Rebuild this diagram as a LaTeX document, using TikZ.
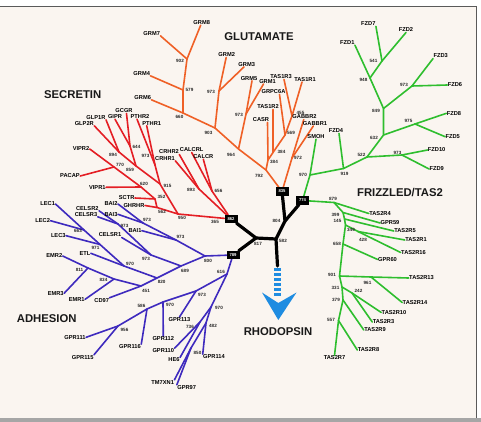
\documentclass[tikz,border=0pt]{standalone}
\usepackage{fontspec}
\setmainfont{Liberation Sans}
\usetikzlibrary{calc}
\definecolor{bgc}{RGB}{250,245,240}
\definecolor{glc}{RGB}{239,96,38}
\definecolor{sec}{RGB}{228,30,36}
\definecolor{frc}{RGB}{46,190,46}
\definecolor{adc}{RGB}{62,42,190}
\definecolor{arc}{RGB}{30,140,225}
\definecolor{frm}{RGB}{90,90,90}
\pgfdeclarelayer{back}
\pgfdeclarelayer{lines}
\pgfsetlayers{back,lines,main}
\tikzset{
 gl/.style={font=\fontsize{5.7}{6}\selectfont\bfseries, inner sep=0.5pt, outer sep=0pt, text=black},
 bs/.style={font=\fontsize{4.6}{5}\selectfont\bfseries, inner sep=0pt, text=black!85},
 ttl/.style={font=\fontsize{11.3}{12}\selectfont\bfseries, inner sep=0pt, text=black!90},
 bx/.style={fill=black, text=white, font=\fontsize{4.2}{4.5}\selectfont\bfseries, minimum width=13pt, minimum height=8.5pt, inner sep=0pt, outer sep=0pt},
 lg/.style={draw=glc, line width=1.6pt, line cap=round, line join=round},
 ls/.style={draw=sec, line width=1.6pt, line cap=round, line join=round},
 lf/.style={draw=frc, line width=1.6pt, line cap=round, line join=round},
 la/.style={draw=adc, line width=1.6pt, line cap=round, line join=round},
 lk/.style={draw=black, line width=3.2pt, line cap=round, line join=round},
}
\begin{document}
\begin{tikzpicture}[x=1pt,y=-1pt]
\useasboundingbox (0,0) rectangle (481,422);
\begin{pgfonlayer}{back}
\fill[white] (0,0) rectangle (481,422);
\fill[bgc] (0,6.5) rectangle (476,418);
\draw[frm, line width=1pt] (0,6.5) -- (476,6.5) -- (476,418);
\fill[gray!70] (0,418) rectangle (481,422);
\end{pgfonlayer}

% titles
\node[ttl] (tGLU) at (259,36.7) {GLUTAMATE};
\node[ttl] (tSEC) at (72.7,95) {SECRETIN};
\node[ttl] (tFRZ) at (400,192.3) {FRIZZLED/TAS2};
\node[ttl] (tADH) at (46.7,318.3) {ADHESION};
\node[ttl] (tRHO) at (278,332) {RHODOPSIN};

% boxes
\node[bx] (B835) at (282,191.5) {835};
\node[bx] (B862) at (231,219) {862};
\node[bx] (B774) at (302.5,200.5) {774};
\node[bx] (B789) at (233,255) {789};
\coordinate (k804) at (285,221);
\coordinate (k582) at (276,239);
\coordinate (k817) at (256,238);
\coordinate (karr) at (277.5,266);
\node[bs] (n804) at (276.5,221) {804};
\node[bs] (n582) at (283,241) {582};
\node[bs] (n817) at (258,243.5) {817};

% ---------- glutamate ----------
\node[gl] (GRM8) at (201.7,22.7) {GRM8};
\node[gl] (GRM7) at (151.7,33.3) {GRM7};
\node[gl] (GRM4) at (141.7,73.3) {GRM4};
\node[gl] (GRM6) at (142.7,97.3) {GRM6};
\node[gl] (GRM2) at (226.7,55) {GRM2};
\node[gl] (GRM3) at (246.7,64.3) {GRM3};
\node[gl] (GRM5) at (249,78.3) {GRM5};
\node[gl] (GRM1) at (267.5,81.5) {GRM1};
\node[gl] (TAS1R3) at (281,77) {TAS1R3};
\node[gl] (TAS1R1) at (305,79.5) {TAS1R1};
\node[gl] (GRPC6A) at (273.5,92) {GRPC6A};
\node[gl] (TAS1R2) at (268,107) {TAS1R2};
\node[gl] (CASR) at (261,120) {CASR};
\node[gl] (GABBR2) at (304.5,117) {GABBR2};
\node[gl] (GABBR1) at (315,123.5) {GABBR1};
\coordinate (g902) at (187,59);
\coordinate (g579) at (183,90);
\coordinate (g660) at (183,113);
\coordinate (g973a) at (219,91);
\coordinate (g903) at (215,128);
\coordinate (g973b) at (246,114);
\coordinate (g964) at (238.5,149);
\coordinate (g792) at (266,170);
\coordinate (g384b) at (268,160);
\coordinate (g384a) at (273,152.5);
\coordinate (g569) at (285,135);
\coordinate (g455) at (292,116);
\coordinate (g972) at (292,158);
\node[bs] (n902) at (180,60.5) {902};
\node[bs] (n579) at (189.5,90) {579};
\node[bs] (n660) at (179.5,116.5) {660};
\node[bs] (n973a) at (211,92) {973};
\node[bs] (n903) at (208.5,133) {903};
\node[bs] (n973b) at (239,115) {973};
\node[bs] (n964) at (231,154.5) {964};
\node[bs] (n792) at (259,175.5) {792};
\node[bs] (n384b) at (274,161.5) {384};
\node[bs] (n384a) at (281.5,151.5) {384};
\node[bs] (n569) at (291,133) {569};
\node[bs] (n455) at (300.5,112.5) {455};
\node[bs] (n972) at (298,157.5) {972};

% ---------- secretin ----------
\node[gl] (GLP2R) at (84.3,123.3) {GLP2R};
\node[gl] (GLP1R) at (96,117.3) {GLP1R};
\node[gl] (GIPR) at (115,116.7) {GIPR};
\node[gl] (GCGR) at (124,111) {GCGR};
\node[gl] (PTHR2) at (140,116.7) {PTHR2};
\node[gl] (PTHR1) at (151.7,123.3) {PTHR1};
\node[gl] (VIPR2) at (81,149) {VIPR2};
\node[gl] (PACAP) at (70,176) {PACAP};
\node[gl] (VIPR1) at (97.3,187.3) {VIPR1};
\node[gl] (SCTR) at (126.7,198) {SCTR};
\node[gl] (GHRHR) at (134,205.5) {GHRHR};
\node[gl] (CRHR2) at (169,152) {CRHR2};
\node[gl] (CRHR1) at (165,158.3) {CRHR1};
\node[gl] (CALCRL) at (191.7,150) {CALCRL};
\node[gl] (CALCR) at (203.3,156.7) {CALCR};
\coordinate (s894) at (119,152);
\coordinate (s644) at (130,146);
\coordinate (s859) at (136,166);
\coordinate (s973) at (155,165);
\coordinate (s915) at (160,184);
\coordinate (s770) at (114,167);
\coordinate (s620) at (141,187);
\coordinate (s352) at (155,199);
\coordinate (s562) at (157,207.5);
\coordinate (s950) at (178,214);
\coordinate (s893) at (199,189);
\coordinate (s656) at (212,191);
\node[bs] (n894) at (113,154.5) {894};
\node[bs] (n644) at (136.5,147) {644};
\node[bs] (n859) at (130,169.5) {859};
\node[bs] (n973s) at (145.5,156) {973};
\node[bs] (n915) at (167.5,185.5) {915};
\node[bs] (n770) at (120,164.5) {770};
\node[bs] (n620) at (144,183.5) {620};
\node[bs] (n352) at (161.5,197) {352};
\node[bs] (n562) at (162,211.5) {562};
\node[bs] (n950) at (182,217.5) {950};
\node[bs] (n893) at (191,190) {893};
\node[bs] (n656) at (218.5,191) {656};
\node[bs] (n365) at (215,222) {365};

% ---------- adhesion ----------
\node[gl] (LEC1) at (47.7,204) {LEC1};
\node[gl] (LEC2) at (42.7,220.7) {LEC2};
\node[gl] (LEC3) at (58.3,235.7) {LEC3};
\node[gl] (CELSR2) at (87.3,208.3) {CELSR2};
\node[gl] (CELSR3) at (86,214.3) {CELSR3};
\node[gl] (BAI2) at (111,204) {BAI2};
\node[gl] (BAI3) at (111,214.3) {BAI3};
\node[gl] (BAI1) at (135,230.7) {BAI1};
\node[gl] (CELSR1) at (110,235) {CELSR1};
\node[gl] (EMR2) at (54.3,256) {EMR2};
\node[gl] (ETL) at (85,253.3) {ETL};
\node[gl] (EMR3) at (55.7,293.3) {EMR3};
\node[gl] (EMR1) at (76.7,299.3) {EMR1};
\node[gl] (CD97) at (101.7,300.3) {CD97};
\node[gl] (GPR113) at (179.5,319.5) {GPR113};
\node[gl] (GPR111) at (75,337.3) {GPR111};
\node[gl] (GPR116) at (130,346.7) {GPR116};
\node[gl] (GPR112) at (163.3,339) {GPR112};
\node[gl] (GPR110) at (163.3,350.7) {GPR110};
\node[gl] (HE6) at (174,360) {HE6};
\node[gl] (GPR114) at (214,356.7) {GPR114};
\node[gl] (GPR115) at (82.7,357.3) {GPR115};
\node[gl] (TM7XN1) at (162.7,382.3) {TM7XN1};
\node[gl] (GPR97) at (186.7,387.3) {GPR97};
\coordinate (a663) at (84,230);
\coordinate (a971) at (100,244.5);
\coordinate (a970) at (124,266);
\coordinate (a973a) at (118,224);
\coordinate (a973c) at (151,255);
\coordinate (a973b) at (143,223);
\coordinate (a973d) at (176,240);
\coordinate (a800) at (205,256);
\coordinate (a689) at (181,266);
\coordinate (a820) at (157,278);
\coordinate (a811) at (88,268);
\coordinate (a834) at (114,279);
\coordinate (a451) at (141,286);
\coordinate (a616) at (227,274);
\coordinate (a973e) at (196,291);
\coordinate (a970c) at (163,302);
\coordinate (a586) at (147,309);
\coordinate (a956) at (118,326);
\coordinate (a970b) at (211,307);
\coordinate (a736) at (200,322);
\coordinate (a482) at (206,323);
\coordinate (a850) at (191,348);
\node[bs] (n663) at (78,231) {663};
\node[bs] (n971) at (95.5,247.5) {971};
\node[bs] (n970a) at (130,264) {970};
\node[bs] (n973aa) at (124.5,225.5) {973};
\node[bs] (n973cc) at (146,258.5) {973};
\node[bs] (n973bb) at (147,219.5) {973};
\node[bs] (n973dd) at (180.5,237) {973};
\node[bs] (n800) at (208,261) {800};
\node[bs] (n689) at (185,270.5) {689};
\node[bs] (n820) at (161.7,282) {820};
\node[bs] (n811) at (79.5,269.5) {811};
\node[bs] (n834) at (103.5,279.5) {834};
\node[bs] (n451) at (146,290.5) {451};
\node[bs] (n616) at (221,271.5) {616};
\node[bs] (n973ee) at (202,294.5) {973};
\node[bs] (n970c) at (170,305) {970};
\node[bs] (n586) at (141.5,306) {586};
\node[bs] (n956) at (124.5,330) {956};
\node[bs] (n970b) at (219,307.5) {970};
\node[bs] (n736) at (190,326.5) {736};
\node[bs] (n482) at (213,325.5) {482};
\node[bs] (n850) at (197.5,352.5) {850};

% ---------- frizzled / TAS2 ----------
\node[gl] (FZD7) at (368.3,24) {FZD7};
\node[gl] (FZD2) at (406,30) {FZD2};
\node[gl] (FZD1) at (347.3,42.7) {FZD1};
\node[gl] (FZD3) at (440.7,56) {FZD3};
\node[gl] (FZD6) at (455,85) {FZD6};
\node[gl] (FZD8) at (454,113.3) {FZD8};
\node[gl] (FZD5) at (452.7,136.7) {FZD5};
\node[gl] (FZD10) at (436.7,150) {FZD10};
\node[gl] (FZD9) at (436.7,169) {FZD9};
\node[gl] (FZD4) at (336,131) {FZD4};
\node[gl] (SMOH) at (316,136.7) {SMOH};
\node[gl] (TAS2R4) at (380,213.5) {TAS2R4};
\node[gl] (GPR59) at (390,223) {GPR59};
\node[gl] (TAS2R5) at (405,231) {TAS2R5};
\node[gl] (TAS2R1) at (416,240) {TAS2R1};
\node[gl] (TAS2R16) at (413.5,252.5) {TAS2R16};
\node[gl] (GPR60) at (387.5,259.5) {GPR60};
\node[gl] (TAS2R13) at (421.5,278) {TAS2R13};
\node[gl] (TAS2R14) at (415,302.5) {TAS2R14};
\node[gl] (TAS2R10) at (394,312.5) {TAS2R10};
\node[gl] (TAS2R3) at (383.5,322) {TAS2R3};
\node[gl] (TAS2R9) at (375,330) {TAS2R9};
\node[gl] (TAS2R8) at (368.5,350) {TAS2R8};
\node[gl] (TAS2R7) at (334.5,358) {TAS2R7};
\coordinate (f541) at (382,61);
\coordinate (f948) at (370,78);
\coordinate (f973f) at (412,86);
\coordinate (f849) at (383.5,108.5);
\coordinate (f975) at (415,124);
\coordinate (f632) at (383.5,135);
\coordinate (f973g) at (402,155);
\coordinate (f522) at (367,157);
\coordinate (f919) at (343.5,168.5);
\coordinate (f970) at (310,175);
\coordinate (t879) at (334,202.5);
\coordinate (t399) at (343,212.5);
\coordinate (t145) at (344.5,219);
\coordinate (t349) at (345.5,225);
\coordinate (t428) at (358,231.5);
\coordinate (t658) at (343,244);
\coordinate (t901) at (339.5,276);
\coordinate (t961) at (371,277);
\coordinate (t331) at (342,287);
\coordinate (t242) at (352,293);
\coordinate (t379) at (343,300);
\coordinate (t557) at (338.5,320.5);
\node[bs] (n541) at (373.5,60.5) {541};
\node[bs] (n948) at (363.5,80) {948};
\node[bs] (n973ff) at (404,85) {973};
\node[bs] (n849) at (376,110.5) {849};
\node[bs] (n975) at (408.5,121) {975};
\node[bs] (n632) at (374,137.5) {632};
\node[bs] (n973gg) at (397.5,152.5) {973};
\node[bs] (n522) at (361.5,155) {522};
\node[bs] (n919) at (344.5,174) {919};
\node[bs] (n970f) at (303,174.5) {970};
\node[bs] (n879) at (333,199) {879};
\node[bs] (n399) at (335.5,215) {399};
\node[bs] (n145) at (337.5,221) {145};
\node[bs] (n349) at (351,230) {349};
\node[bs] (n428) at (363,239.5) {428};
\node[bs] (n658) at (337,243.5) {658};
\node[bs] (n901) at (332,275) {901};
\node[bs] (n961) at (367.5,283) {961};
\node[bs] (n331) at (335.5,287.5) {331};
\node[bs] (n242) at (358.5,290.5) {242};
\node[bs] (n379) at (336,299.5) {379};
\node[bs] (n557) at (331,320) {557};

\begin{pgfonlayer}{lines}
% glutamate
\draw[lg] (GRM7.south east) -- (g902);
\draw[lg] (GRM8) -- (g902);
\draw[lg] (g902) -- (g579);
\draw[lg] (GRM4.south east) -- (g579);
\draw[lg] (g579) -- (g660);
\draw[lg] (GRM6.south east) -- (g660) -- (g903) -- (g964) -- (g792) -- (B835);
\draw[lg] (GRM2) -- (g973a);
\draw[lg] (GRM3) -- (g973a);
\draw[lg] (g973a) -- (g903);
\draw[lg] ($(GRM5.south)+(3,0)$) -- (g973b) -- (g964);
\draw[lg] ($(GRM1.south)+(-4,0)$) -- (g973b);
\draw[lg] ($(TAS1R3.south)+(3,0)$) -- (g455);
\draw[lg] ($(TAS1R1.south)+(-3,0)$) -- (g455);
\draw[lg] (g455) -- (g569);
\draw[lg] ($(GRPC6A.south)+(6,0)$) -- (g569);
\draw[lg] (g569) -- (g384a) -- (g384b) -- (g792);
\draw[lg] ($(TAS1R2.south)+(5,0)$) -- (g384a);
\draw[lg] ($(CASR.south)+(6.5,0)$) -- (g384b);
\draw[lg] (GABBR2) -- (g972);
\draw[lg] (GABBR1) -- (g972);
\draw[lg] (g972) -- (B835);
% secretin
\draw[ls] (GLP2R.south east) -- (s894);
\draw[ls] (GLP1R.south east) -- (s894);
\draw[ls] (s894) -- (s859);
\draw[ls] (GIPR.south) -- (s644);
\draw[ls] ($(GCGR.south)+(2.5,0)$) -- (s644);
\draw[ls] (s644) -- (s859) -- (s915) -- (s950);
\draw[ls] ($(PTHR2.south)+(-3,0)$) -- (s973);
\draw[ls] ($(PTHR1.south)+(-5,0)$) -- (s973);
\draw[ls] (s973) -- (s915);
\draw[ls] (VIPR2.east) -- (s770) -- (s620) -- (s352) -- (s562) -- (s950) -- (B862);
\draw[ls] (PACAP.east) -- (s770);
\draw[ls] (VIPR1.east) -- (s620);
\draw[ls] (SCTR.east) -- (s352);
\draw[ls] (GHRHR.east) -- (s562);
\draw[ls] (CRHR2.south east) -- (s893);
\draw[ls] (CRHR1.south east) -- (s893);
\draw[ls] (s893) -- (B862);
\draw[ls] (CALCRL.south) -- (s656);
\draw[ls] (CALCR.south) -- (s656);
\draw[ls] (s656) -- (B862);
% adhesion
\draw[la] (LEC1.east) -- (a663) -- (a971) -- (a970) -- (a820) -- (a689) -- (a800) -- (B789);
\draw[la] (LEC2.east) -- (a663);
\draw[la] (LEC3.east) -- (a971);
\draw[la] (ETL.east) -- (a970);
\draw[la] (CELSR2.south east) -- (a973a);
\draw[la] (CELSR3.south east) -- (a973a);
\draw[la] (a973a) -- (a973c) -- (a689);
\draw[la] (CELSR1.south east) -- (a973c);
\draw[la] (BAI2.east) -- (a973b) -- (a973d) -- (a800);
\draw[la] (BAI3.east) -- (a973b);
\draw[la] (BAI1.east) -- (a973d);
\draw[la] (EMR2.east) -- (a811) -- (a834) -- (a451) -- (a820);
\draw[la] (EMR3.east) -- (a811);
\draw[la] (EMR1.east) -- (a834);
\draw[la] (CD97.north east) -- (a451);
\draw[la] (B789) -- (a616) -- (a973e) -- (a970c) -- (a586) -- (a956) -- (GPR111.east);
\draw[la] (GPR115.north east) -- (a956);
\draw[la] (GPR116.north east) -- (a586);
\draw[la] (GPR112.north) -- (a970c);
\draw[la] (GPR113.north) -- (a973e);
\draw[la] (a616) -- (a970b) -- (a736) -- (GPR110.north east);
\draw[la] (a736) -- (HE6.north east);
\draw[la] (a970b) -- (a482) -- (GPR114.north west);
\draw[la] (a482) -- (a850) -- (TM7XN1.north east);
\draw[la] (a850) -- (GPR97.north west);
% frizzled / TAS2
\draw[lf] (FZD7.south east) -- (f541);
\draw[lf] (FZD2.south) -- (f541);
\draw[lf] (f541) -- (f948);
\draw[lf] (FZD1.south east) -- (f948);
\draw[lf] (f948) -- (f849) -- (f632) -- (f522) -- (f919) -- (f970) -- (B774);
\draw[lf] (FZD3.south west) -- (f973f);
\draw[lf] (FZD6.west) -- (f973f);
\draw[lf] (f973f) -- (f849);
\draw[lf] (FZD8.west) -- (f975);
\draw[lf] (FZD5.west) -- (f975);
\draw[lf] (f975) -- (f632);
\draw[lf] (FZD10.west) -- (f973g);
\draw[lf] (FZD9.west) -- (f973g);
\draw[lf] (f973g) -- (f522);
\draw[lf] ($(FZD4.south)+(3,0)$) -- (f919);
\draw[lf] (SMOH.south) -- (f970);
\draw[lf] (B774) -- (t879) -- (TAS2R4.west);
\draw[lf] (t879) -- (t399) -- (GPR59.west);
\draw[lf] (t399) -- (t145) -- (TAS2R5.west);
\draw[lf] (t145) -- (t349) -- (t428) -- (TAS2R16.west);
\draw[lf] (t428) -- (TAS2R1.west);
\draw[lf] (t349) -- (t658) -- (GPR60.west);
\draw[lf] (t658) -- (t901) -- (t961) -- (TAS2R13.west);
\draw[lf] (t961) -- (TAS2R14.west);
\draw[lf] (t901) -- (t331) -- (t242) -- (TAS2R10.west);
\draw[lf] (t242) -- (TAS2R3.west);
\draw[lf] (t331) -- (t379) -- (TAS2R9.west);
\draw[lf] (t379) -- (t557) -- (TAS2R8.west);
\draw[lf] (t557) -- (TAS2R7.north);
% black trunk
\draw[lk] (B835) -- (k804) -- (k582) -- (k817) -- (B862);
\draw[lk] (B774) -- (k804);
\draw[lk] (k817) -- (B789);
\draw[lk] (k582) -- (karr);
% arrow
\foreach \yy in {268,273,278,283,288,293}
  \fill[arc] (274.3,\yy) rectangle (281,\yy+3.3);
\fill[arc] (262,292.5) -- (278.3,320) -- (296.5,292.5) -- (278.3,303) -- cycle;
\end{pgfonlayer}
\end{tikzpicture}
\end{document}
